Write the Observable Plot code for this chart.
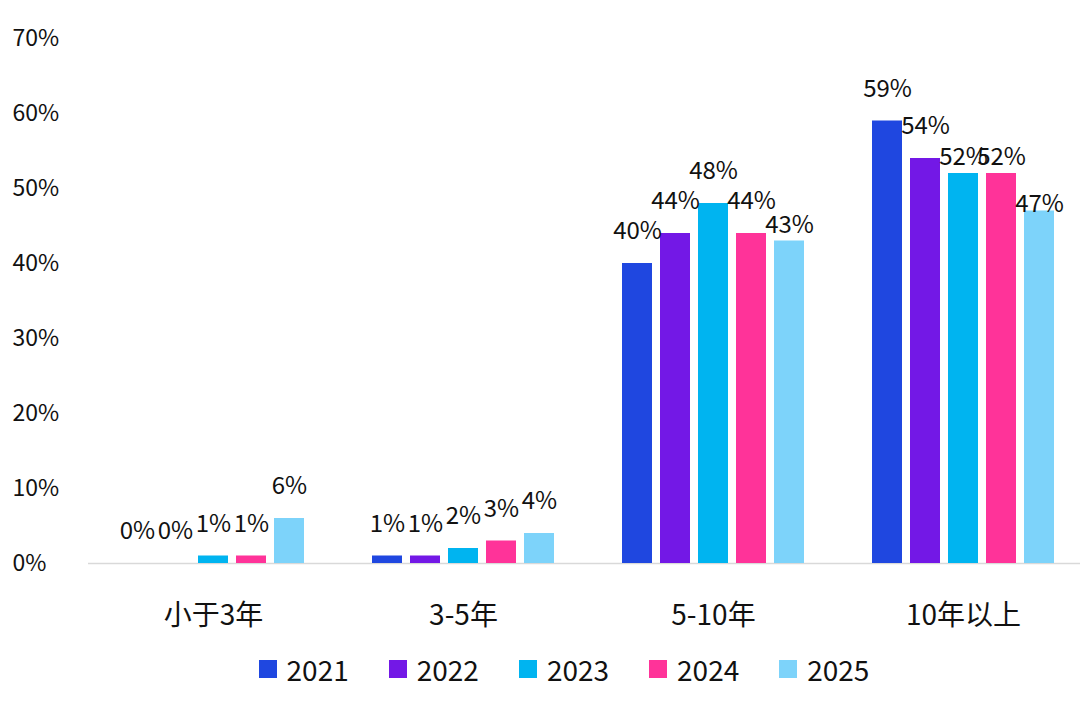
<!DOCTYPE html>
<html>
<head>
<meta charset="utf-8">
<script src="https://cdn.jsdelivr.net/npm/d3@7"></script>
<script src="https://cdn.jsdelivr.net/npm/@observablehq/plot@0.6"></script>
<style>
  html, body { margin: 0; padding: 0; background: #fff; }
  body { width: 1080px; height: 703px; overflow: hidden; font-family: "Noto Sans CJK SC", "Noto Sans", sans-serif; }
  #legend { display: flex; justify-content: center; align-items: center; height: 36px; margin-top: 11px; margin-left: 48px; font-size: 28px; color: #111; }
  .item { display: flex; align-items: center; margin: 0 20px; }
  .sw { width: 18px; height: 18px; margin-right: 10px; }
</style>
</head>
<body>
<div id="chart"></div>
<div id="legend"></div>
<script>
const categories = ["小于3年", "3-5年", "5-10年", "10年以上"];
const years = ["2021", "2022", "2023", "2024", "2025"];
const colors = ["#1f47e0", "#7318e6", "#00b4f0", "#ff3399", "#7dd3fa"];
const values2021 = [0, 1, 40, 59];
const values2022 = [0, 1, 44, 54];
const values2023 = [1, 2, 48, 52];
const values2024 = [1, 3, 44, 52];
const values2025 = [6, 4, 43, 47];
const yTicks = [0, 10, 20, 30, 40, 50, 60, 70];

const series = [values2021, values2022, values2023, values2024, values2025];
const data = [];
categories.forEach((c, i) => {
  years.forEach((y, j) => {
    data.push({category: c, year: y, value: series[j][i]});
  });
});

// labels nudged closer to their bars in the reference (to limit overlaps)
const nearLabels = new Set(["5-10年|2025", "10年以上|2023", "10年以上|2024"]);
const nearestLabels = new Set(["10年以上|2025"]);
const key = d => d.category + "|" + d.year;
const labelOpts = {fx: "category", x: "year", y: "value", text: d => d.value + "%", fontSize: 24, fill: "#111"};

const font = "Noto Sans CJK SC, Noto Sans, sans-serif";
const chart = Plot.plot({
  width: 1080,
  height: 640,
  marginLeft: 88,
  marginRight: -8,
  marginTop: 38,
  marginBottom: 77,
  style: {fontFamily: font, color: "#111", background: "#fff"},
  fx: {domain: categories, paddingInner: 0.264, paddingOuter: 0.132, label: null},
  x: {domain: years, paddingInner: 0.22, paddingOuter: 0, axis: null},
  y: {domain: [0, 70], axis: null},
  color: {domain: years, range: colors},
  marks: [
    Plot.ruleY([0], {stroke: "#d9d9d9", strokeWidth: 1.5, insetLeft: -33, insetRight: -33}),
    Plot.barY(data, {fx: "category", x: "year", y: "value", fill: "year"}),
    Plot.text(data.filter(d => !nearLabels.has(key(d)) && !nearestLabels.has(key(d))), {...labelOpts, dy: -32}),
    Plot.text(data.filter(d => nearLabels.has(key(d))), {...labelOpts, dy: -16}),
    Plot.text(data.filter(d => nearestLabels.has(key(d))), {...labelOpts, dy: -7}),
    Plot.axisY({ticks: yTicks, tickFormat: d => d + "%", tickSize: 0, tickPadding: 76, dx: -33, textAnchor: "start", fontSize: 23, fill: "#111", label: null}),
    Plot.axisFx({anchor: "bottom", tickSize: 0, tickPadding: 42, fontSize: 28, fill: "#111", label: null})
  ]
});
document.getElementById("chart").appendChild(chart);

const legend = document.getElementById("legend");
years.forEach((y, j) => {
  const item = document.createElement("div");
  item.className = "item";
  const sw = document.createElement("div");
  sw.className = "sw";
  sw.style.background = colors[j];
  const t = document.createElement("span");
  t.textContent = y;
  item.appendChild(sw);
  item.appendChild(t);
  legend.appendChild(item);
});
</script>
</body>
</html>
